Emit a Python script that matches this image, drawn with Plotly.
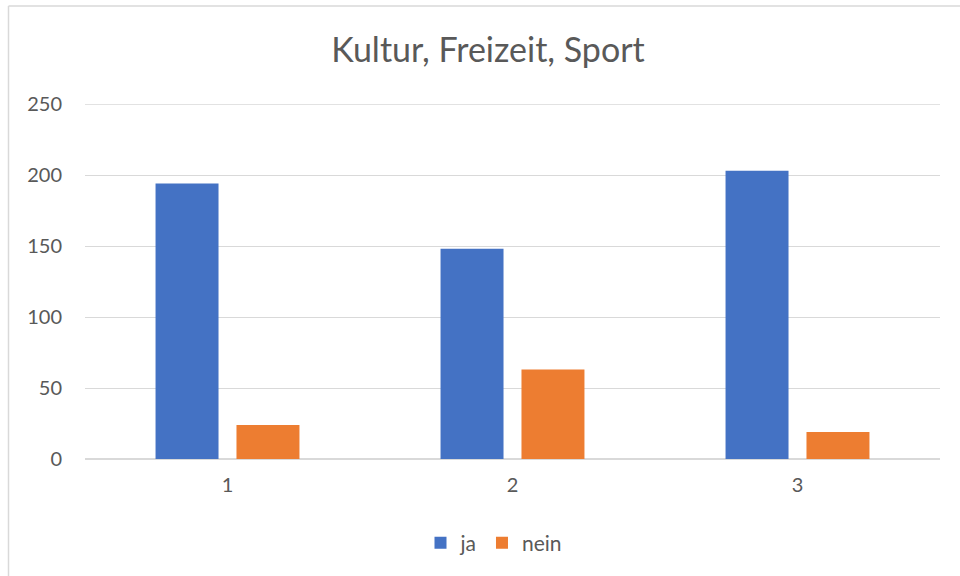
import plotly.graph_objects as go

categories = ["1", "2", "3"]
ja_values = [194, 148, 203]
nein_values = [24, 63, 19]
y_ticks = [0, 50, 100, 150, 200, 250]

FONT = "Lato, Liberation Sans, sans-serif"
TXT = "#595959"
GRID = "#D9D9D9"

W, H = 960, 576
L, R, T, B = 85, 20, 104, 117
PW, PH = W - L - R, H - T - B

fig = go.Figure()
fig.add_trace(go.Bar(name="ja", x=categories, y=ja_values, marker_color="#4472C4", marker_line_width=0))
fig.add_trace(go.Bar(name="nein", x=categories, y=nein_values, marker_color="#ED7D31", marker_line_width=0))

fig.update_layout(
    width=W, height=H,
    paper_bgcolor="white", plot_bgcolor="white",
    margin=dict(l=L, r=R, t=T, b=B),
    barmode="group", bargap=0.432, bargroupgap=0.222,
    title=dict(text="Kultur, Freizeit, Sport", x=488 / W, xanchor="center", y=1 - 50 / H, yanchor="middle",
               font=dict(family=FONT, size=34, color=TXT)),
    font=dict(family=FONT, size=20, color=TXT),
    legend=dict(orientation="h", x=(494 - L) / PW, xanchor="center", y=-(543 - (T + PH)) / PH, yanchor="middle",
                font=dict(family=FONT, size=21, color=TXT), itemwidth=30, traceorder="normal"),
    xaxis=dict(showgrid=False, showline=False, zeroline=False, ticks="", ticklabelstandoff=12,
               tickfont=dict(family=FONT, size=20, color=TXT)),
    yaxis=dict(range=[0, 250], tickvals=y_ticks, showgrid=True, gridcolor=GRID, gridwidth=1.3,
               zeroline=True, zerolinecolor=GRID, zerolinewidth=1.5, showline=False, ticks="",
               ticklabelstandoff=22, tickfont=dict(family=FONT, size=20, color=TXT)),
    shapes=[
        dict(type="line", xref="paper", yref="y", x0=0, x1=1, y0=y_ticks[-1], y1=y_ticks[-1],
             line=dict(color=GRID, width=1.3), layer="below"),
        dict(type="line", xref="paper", yref="paper", x0=-(L - 8.5) / PW, x1=1.1, y0=1 + (T - 6) / PH,
             y1=1 + (T - 6) / PH, line=dict(color=GRID, width=1.5)),
        dict(type="line", xref="paper", yref="paper", x0=-(L - 8.5) / PW, x1=-(L - 8.5) / PW,
             y0=1 + (T - 6) / PH, y1=-0.5, line=dict(color=GRID, width=1.5)),
    ],
)

fig.write_html("out.html", config={"displayModeBar": False},
               post_script="document.body.style.margin='0';document.body.style.overflow='hidden';")
